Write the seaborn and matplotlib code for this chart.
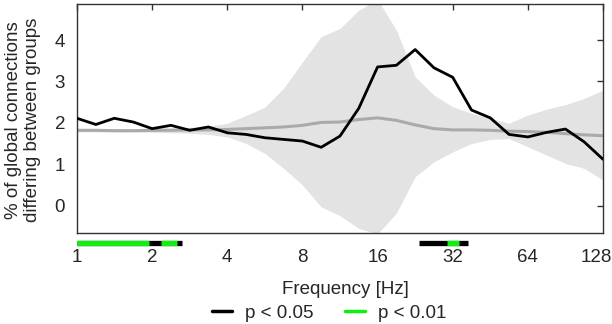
import numpy as np
import pandas as pd
import matplotlib
matplotlib.use("Agg")
import matplotlib.pyplot as plt
import matplotlib.transforms as mtransforms
from matplotlib.lines import Line2D
import seaborn as sns

# frequencies (quarter-octave steps, 1..128 Hz)
freqs = [1.0, 1.19, 1.41, 1.68, 2.0, 2.38, 2.83, 3.36, 4.0, 4.76, 5.66, 6.73,
         8.0, 9.51, 11.31, 13.45, 16.0, 19.03, 22.63, 26.91, 32.0, 38.05,
         45.25, 53.82, 64.0, 76.11, 90.51, 107.63, 128.0]
observed = [2.11, 1.96, 2.11, 2.02, 1.86, 1.94, 1.82, 1.90, 1.76, 1.72, 1.64,
            1.60, 1.56, 1.41, 1.68, 2.35, 3.35, 3.39, 3.77, 3.33, 3.10, 2.31,
            2.12, 1.72, 1.66, 1.77, 1.85, 1.54, 1.12]
null_mean = [1.82, 1.82, 1.81, 1.81, 1.82, 1.82, 1.83, 1.83, 1.84, 1.86, 1.88,
             1.90, 1.94, 2.01, 2.02, 2.08, 2.12, 2.06, 1.95, 1.86, 1.83, 1.83,
             1.82, 1.80, 1.79, 1.77, 1.74, 1.71, 1.69]
null_upper = [1.86, 1.86, 1.86, 1.86, 1.87, 1.88, 1.89, 1.92, 1.99, 2.18, 2.38,
              2.84, 3.47, 4.08, 4.28, 4.72, 4.98, 4.24, 3.11, 2.67, 2.39, 2.23,
              2.11, 1.99, 2.19, 2.33, 2.44, 2.59, 2.79]
null_lower = [1.78, 1.78, 1.78, 1.78, 1.77, 1.76, 1.75, 1.72, 1.66, 1.50, 1.26,
              0.90, 0.50, -0.03, -0.24, -0.55, -0.68, -0.18, 0.70, 1.06, 1.30,
              1.50, 1.60, 1.62, 1.42, 1.22, 1.02, 0.90, 0.62]

# significance intervals (Hz)
sig05_intervals = [(1.0, 2.63), (23.4, 36.7)]
sig01_intervals = [(1.0, 1.95), (2.17, 2.52), (30.4, 33.8)]

xtick_vals = [1, 2, 4, 8, 16, 32, 64, 128]
ytick_vals = [0, 1, 2, 3, 4]

sns.set_style("white")
plt.rcParams['font.family'] = ['Liberation Sans', 'DejaVu Sans']

FS = 13.5
fig = plt.figure(figsize=(6.12, 3.24), dpi=100)
ax = fig.add_axes([77 / 612, 1 - 233 / 324, (603 - 77) / 612, (233 - 4) / 324])

df = pd.DataFrame({"f": freqs, "obs": observed, "mean": null_mean})

ax.fill_between(freqs, null_lower, null_upper, color="#e3e3e3", linewidth=0, zorder=1)
sns.lineplot(data=df, x="f", y="mean", ax=ax, color="#aaaaaa", linewidth=2.2, zorder=2)
sns.lineplot(data=df, x="f", y="obs", ax=ax, color="black", linewidth=2.0, zorder=3)

ax.set_xscale("log", base=2)
ax.set_xlim(1, 128)
ax.set_ylim(-0.66, 4.87)
ax.set_xticks(xtick_vals)
ax.set_xticklabels([str(v) for v in xtick_vals])
ax.set_yticks(ytick_vals)
ax.set_yticklabels([str(v) for v in ytick_vals])
ax.minorticks_off()
ax.tick_params(axis="both", direction="in", length=4, width=1, color="#333333",
               labelsize=FS, top=True, right=True)
ax.tick_params(axis="x", pad=11.5)
ax.tick_params(axis="y", pad=8.5)
for s in ax.spines.values():
    s.set_color("#333333")
    s.set_linewidth(1.0)

# shift the last x tick label left so it fits within the figure
last = ax.get_xticklabels()[-1]
last.set_transform(last.get_transform() + mtransforms.ScaledTranslation(-7 / 100, 0, fig.dpi_scale_trans))

ax.set_xlabel("Frequency [Hz]", fontsize=FS)
ax.xaxis.set_label_coords(0.51, -0.21)
ax.set_ylabel("% of global connections\ndiffering between groups", fontsize=FS)
ax.yaxis.set_label_coords(-0.068, 0.493)

trans = mtransforms.blended_transform_factory(ax.transData, ax.transAxes)
ybar = -0.044
for a, b in sig05_intervals:
    ax.plot([a, b], [ybar, ybar], color="black", linewidth=3.8, solid_capstyle="butt",
            transform=trans, clip_on=False, zorder=5)
for a, b in sig01_intervals:
    ax.plot([a, b], [ybar, ybar], color="#11ee11", linewidth=3.8, solid_capstyle="butt",
            transform=trans, clip_on=False, zorder=6)

handles = [Line2D([], [], color="black", linewidth=2.5),
           Line2D([], [], color="#11ee11", linewidth=2.5)]
fig.legend(handles, ["p < 0.05", "p < 0.01"], loc="center", bbox_to_anchor=(329 / 612, 1 - 313 / 324),
           ncol=2, frameon=False, fontsize=FS, handlelength=1.07, handletextpad=0.7,
           columnspacing=1.65, borderpad=0, borderaxespad=0)

fig.savefig("out.png", dpi=100)
